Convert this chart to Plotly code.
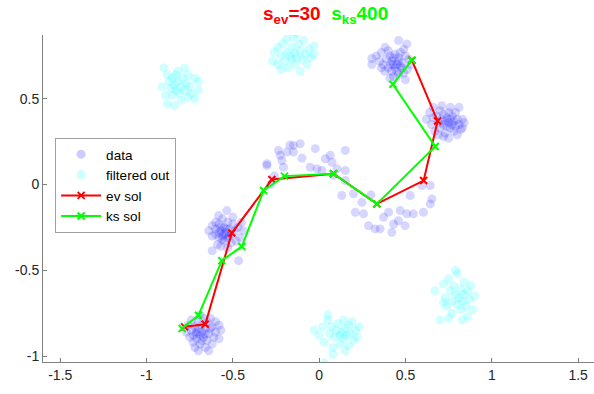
import plotly.graph_objects as go

# ---- data points (blue, kept) ----
data_x = [
    # cluster top (0.45, 0.70)
    0.305, 0.305, 0.33, 0.35, 0.36, 0.382, 0.40, 0.41, 0.42, 0.43, 0.44, 0.45, 0.46, 0.47, 0.48, 0.46, 0.44, 0.46, 0.49, 0.508,
    0.50, 0.52, 0.51, 0.49, 0.46, 0.43, 0.41, 0.38, 0.40, 0.42, 0.37, 0.39, 0.50, 0.45, 0.48, 0.43, 0.47, 0.53, 0.36, 0.415,
    # cluster right (0.74, 0.37)
    0.62, 0.64, 0.65, 0.66, 0.67, 0.68, 0.69, 0.70, 0.70, 0.71, 0.72, 0.72, 0.73, 0.73, 0.74, 0.74, 0.75, 0.75, 0.76, 0.76,
    0.77, 0.77, 0.78, 0.78, 0.79, 0.79, 0.80, 0.81, 0.81, 0.82, 0.83, 0.83, 0.84, 0.72, 0.75, 0.69, 0.80, 0.66, 0.71, 0.76,
    # cluster middle-left (-0.54, -0.28)
    -0.535, -0.583, -0.56, -0.50, -0.62, -0.60, -0.58, -0.57, -0.56, -0.55, -0.54, -0.53, -0.52, -0.51, -0.50, -0.49, -0.47, -0.44, -0.46, -0.48,
    -0.51, -0.55, -0.58, -0.60, -0.62, -0.59, -0.57, -0.53, -0.62, -0.467, -0.57, -0.53, -0.55, -0.58, -0.52, -0.45, -0.64, -0.56, -0.54, -0.60,
    # cluster bottom-left (-0.69, -0.87)
    -0.76, -0.74, -0.73, -0.72, -0.71, -0.71, -0.70, -0.70, -0.69, -0.69, -0.68, -0.68, -0.67, -0.67, -0.66, -0.66, -0.65, -0.65, -0.64, -0.63,
    -0.62, -0.62, -0.61, -0.60, -0.60, -0.58, -0.58, -0.73, -0.75, -0.72, -0.70, -0.64, -0.74, -0.77, -0.68, -0.66, -0.71, -0.63, -0.57, -0.69,
    # arc
    -0.303, -0.236, -0.226, -0.216, -0.207, -0.187, -0.149, -0.149, -0.110, -0.100, -0.023, -0.052, -0.013, 0.016, 0.035, 0.064, 0.074, 0.103, 0.151, 0.151,
    -0.303, -0.170, -0.260, -0.280, 0.131, 0.199, 0.209, 0.257, 0.286, 0.324, 0.353, 0.373, 0.402, 0.431, 0.459, 0.469, 0.498, 0.508, 0.546, 0.527,
    0.595, 0.643, 0.653, 0.643, 0.604, 0.421, 0.083, 0.151, 0.247, 0.300,
]
data_y = [
    0.735, 0.700, 0.75, 0.72, 0.77, 0.80, 0.78, 0.75, 0.72, 0.70, 0.68, 0.70, 0.72, 0.69, 0.71, 0.74, 0.76, 0.84, 0.79, 0.82,
    0.75, 0.73, 0.67, 0.65, 0.64, 0.63, 0.62, 0.66, 0.68, 0.66, 0.70, 0.73, 0.61, 0.66, 0.68, 0.74, 0.77, 0.70, 0.68, 0.70,
    0.38, 0.42, 0.35, 0.45, 0.31, 0.40, 0.36, 0.43, 0.33, 0.38, 0.35, 0.41, 0.37, 0.30, 0.34, 0.39, 0.36, 0.42, 0.33, 0.38,
    0.35, 0.40, 0.37, 0.31, 0.34, 0.42, 0.38, 0.45, 0.35, 0.32, 0.38, 0.33, 0.36, 0.28, 0.27, 0.29, 0.29, 0.39, 0.46, 0.45,
    -0.152, -0.181, -0.20, -0.19, -0.24, -0.26, -0.23, -0.27, -0.30, -0.25, -0.28, -0.31, -0.26, -0.29, -0.23, -0.27, -0.25, -0.27, -0.31, -0.33,
    -0.34, -0.33, -0.31, -0.29, -0.30, -0.35, -0.36, -0.37, -0.386, -0.444, -0.25, -0.22, -0.29, -0.28, -0.30, -0.22, -0.27, -0.32, -0.26, -0.22,
    -0.82, -0.85, -0.88, -0.83, -0.86, -0.90, -0.80, -0.84, -0.88, -0.93, -0.82, -0.86, -0.89, -0.78, -0.84, -0.95, -0.80, -0.91, -0.87, -0.78,
    -0.83, -0.93, -0.89, -0.86, -0.80, -0.82, -0.90, -0.92, -0.89, -0.95, -0.97, -0.97, -0.79, -0.86, -0.91, -0.87, -0.87, -0.84, -0.85, -0.76,
    0.111, 0.199, 0.170, 0.140, 0.101, 0.189, 0.189, 0.228, 0.238, 0.154, 0.209, 0.101, 0.092, 0.082, 0.150, 0.170, 0.130, 0.092, 0.082, 0.199,
    0.121, 0.230, 0.050, 0.000, -0.064, -0.054, -0.162, -0.171, -0.240, -0.259, -0.259, -0.191, -0.162, -0.230, -0.211, -0.152, -0.240, -0.171, -0.171, -0.064,
    -0.006, -0.006, -0.084, -0.113, -0.162, -0.279, 0.053, 0.023, -0.104, -0.060,
]

# ---- filtered-out points (cyan) ----
filt_x = [
    -0.90, -0.88, -0.91, -0.89, -0.87, -0.86, -0.85, -0.85, -0.84, -0.83, -0.83, -0.82, -0.81, -0.80, -0.80, -0.79, -0.78, -0.77, -0.76, -0.76,
    -0.75, -0.74, -0.72, -0.72, -0.70, -0.70, -0.88, -0.84, -0.82, -0.78,
    -0.27, -0.26, -0.24, -0.24, -0.22, -0.21, -0.20, -0.19, -0.18, -0.17, -0.16, -0.16, -0.15, -0.14, -0.14, -0.13, -0.12, -0.11, -0.11, -0.10,
    -0.09, -0.08, -0.07, -0.06, -0.05, -0.03, -0.03, -0.19, -0.22, -0.13,
    -0.03, 0.00, 0.02, 0.03, 0.05, 0.06, 0.07, 0.08, 0.09, 0.10, 0.11, 0.12, 0.12, 0.13, 0.14, 0.14, 0.15, 0.16, 0.17, 0.17,
    0.18, 0.19, 0.20, 0.21, 0.22, 0.23, 0.03, 0.08, 0.05, 0.15,
    0.67, 0.70, 0.72, 0.73, 0.74, 0.75, 0.76, 0.77, 0.77, 0.78, 0.79, 0.80, 0.80, 0.81, 0.82, 0.82, 0.83, 0.84, 0.84, 0.85,
    0.86, 0.86, 0.87, 0.88, 0.89, 0.90, 0.79, 0.75, 0.83, 0.72,
]
filt_y = [
    0.68, 0.64, 0.57, 0.52, 0.60, 0.56, 0.62, 0.52, 0.58, 0.55, 0.64, 0.60, 0.53, 0.57, 0.49, 0.62, 0.55, 0.59, 0.51, 0.64,
    0.57, 0.53, 0.62, 0.50, 0.60, 0.55, 0.47, 0.46, 0.66, 0.68,
    0.72, 0.77, 0.80, 0.70, 0.75, 0.82, 0.72, 0.77, 0.68, 0.75, 0.80, 0.73, 0.86, 0.77, 0.70, 0.74, 0.82, 0.66, 0.78, 0.73,
    0.84, 0.76, 0.70, 0.79, 0.74, 0.81, 0.76, 0.85, 0.67, 0.88,
    -0.85, -0.88, -0.83, -0.92, -0.79, -0.87, -0.83, -0.95, -0.89, -0.85, -0.81, -0.88, -0.93, -0.86, -0.79, -0.90, -0.84, -0.88, -0.82, -0.94,
    -0.87, -0.80, -0.91, -0.85, -0.89, -0.83, -1.04, -0.99, -0.76, -0.97,
    -0.62, -0.79, -0.58, -0.66, -0.71, -0.55, -0.62, -0.68, -0.75, -0.59, -0.64, -0.70, -0.52, -0.66, -0.61, -0.73, -0.68, -0.57, -0.64, -0.71,
    -0.62, -0.77, -0.67, -0.59, -0.73, -0.65, -0.50, -0.78, -0.79, -0.69,
]

# ---- solution paths ----
ev_x = [-0.78, -0.660, -0.506, -0.274, 0.083, 0.334, 0.605, 0.686, 0.537]
ev_y = [-0.83, -0.815, -0.283, 0.029, 0.063, -0.113, 0.023, 0.370, 0.725]
ks_x = [-0.794, -0.699, -0.564, -0.448, -0.322, -0.201, 0.083, 0.334, 0.672, 0.427, 0.537]
ks_y = [-0.840, -0.762, -0.444, -0.361, -0.035, 0.049, 0.063, -0.113, 0.222, 0.585, 0.725]

x_ticks = [-1.5, -1, -0.5, 0, 0.5, 1, 1.5]
x_tick_labels = ["-1.5", "-1", "-0.5", "0", "0.5", "1", "1.5"]
y_ticks = [-1, -0.5, 0, 0.5]
y_tick_labels = ["-1", "-0.5", "0", "0.5"]

fig = go.Figure()
fig.add_trace(go.Scatter(x=data_x, y=data_y, mode="markers", name="data",
                         marker=dict(color="rgb(0,0,255)", size=9, opacity=0.16, line=dict(width=0))))
fig.add_trace(go.Scatter(x=filt_x, y=filt_y, mode="markers", name="filtered out",
                         marker=dict(color="rgb(0,255,255)", size=9, opacity=0.18, line=dict(width=0))))
fig.add_trace(go.Scatter(x=ev_x, y=ev_y, mode="lines+markers", name="ev sol",
                         line=dict(color="rgb(255,0,0)", width=2),
                         marker=dict(symbol="x-thin", size=7, line=dict(color="rgb(255,0,0)", width=2))))
fig.add_trace(go.Scatter(x=ks_x, y=ks_y, mode="lines+markers", name="ks sol",
                         line=dict(color="rgb(0,255,0)", width=2),
                         marker=dict(symbol="x-thin", size=7, line=dict(color="rgb(0,255,0)", width=2))))

axis_common = dict(showgrid=False, zeroline=False, showline=True, linecolor="#808080", linewidth=1,
                   ticks="inside", ticklen=4, tickcolor="#808080", automargin=False,
                   tickfont=dict(family="Liberation Sans, Arial", size=14, color="#262626"))

fig.update_xaxes(range=[-1.6, 1.592], tickvals=x_ticks, ticktext=x_tick_labels, **axis_common)
fig.update_yaxes(range=[-1.035, 0.872], tickvals=y_ticks, ticktext=y_tick_labels, **axis_common)

title_text = ('<span style="color:rgb(255,0,0)"><b>s<sub>ev</sub>=30</b></span>'
              '&nbsp;&nbsp;<span style="color:rgb(0,255,0)"><b>s<sub>ks</sub>400</b></span>')
fig.add_annotation(text=title_text, xref="paper", yref="paper", x=0.512, y=1.0, yshift=6,
                   xanchor="center", yanchor="bottom", showarrow=False,
                   font=dict(family="Liberation Sans, Arial", size=19))

fig.update_layout(
    width=594, height=394,
    margin=dict(l=43, r=0, t=35, b=32),
    plot_bgcolor="white", paper_bgcolor="white",
    showlegend=True,
    legend=dict(x=0.022, y=0.685, xanchor="left", yanchor="top",
                bgcolor="white", bordercolor="#a0a0a0", borderwidth=1,
                font=dict(family="Liberation Sans, Arial", size=13.5, color="#000000"),
                tracegroupgap=0, itemwidth=40),
)

fig.write_html("out.html", config={"displayModeBar": False},
               post_script="document.body.style.margin='0';document.body.style.overflow='hidden';")
